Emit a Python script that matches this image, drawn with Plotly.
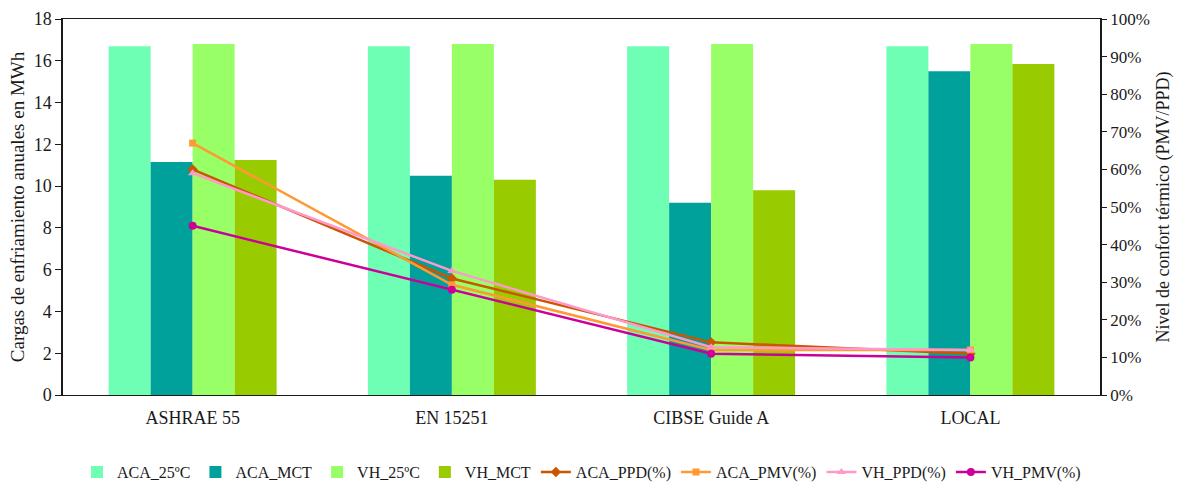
import plotly.graph_objects as go

# Cooling loads (MWh) per comfort standard
categories = ["ASHRAE 55", "EN 15251", "CIBSE Guide A", "LOCAL"]
aca_25 = [16.7, 16.7, 16.7, 16.7]
aca_mct = [11.15, 10.5, 9.2, 15.5]
vh_25 = [16.8, 16.8, 16.8, 16.8]
vh_mct = [11.25, 10.3, 9.8, 15.85]

# Thermal comfort levels (fraction)
aca_ppd = [0.60, 0.31, 0.14, 0.11]
aca_pmv = [0.67, 0.293, 0.12, 0.12]
vh_ppd = [0.59, 0.33, 0.127, 0.12]
vh_pmv = [0.45, 0.28, 0.11, 0.10]

FONT = "Liberation Serif"
INK = "#1a1a1a"

fig = go.Figure()

bars = [
    ("ACA_25ºC", aca_25, "#6FFFB4"),
    ("ACA_MCT", aca_mct, "#00A19A"),
    ("VH_25ºC", vh_25, "#99FF66"),
    ("VH_MCT", vh_mct, "#99CC00"),
]
for name, vals, color in bars:
    fig.add_trace(go.Bar(
        x=categories, y=vals, name=name,
        marker=dict(color=color, line=dict(width=0)),
        yaxis="y",
    ))

lines = [
    ("ACA_PPD(%)", aca_ppd, "#CC5500", "diamond", 8),
    ("ACA_PMV(%)", aca_pmv, "#FF9933", "square", 7),
    ("VH_PPD(%)", vh_ppd, "#FF99CC", "triangle-up", 8),
    ("VH_PMV(%)", vh_pmv, "#CC0099", "circle", 8),
]
for name, vals, color, sym, size in lines:
    fig.add_trace(go.Scatter(
        x=categories, y=vals, name=name, mode="lines+markers",
        line=dict(color=color, width=2.5),
        marker=dict(symbol=sym, size=size, color=color),
        yaxis="y2",
    ))

fig.update_layout(
    width=1185, height=485,
    margin=dict(l=63, r=85, t=19, b=90, autoexpand=False),
    paper_bgcolor="white", plot_bgcolor="white",
    font=dict(family=FONT, size=16, color=INK),
    barmode="group", bargap=0.352, bargroupgap=0,
    showlegend=True,
    legend=dict(
        orientation="h", x=0.5, xanchor="center", y=-0.16, yanchor="top",
        font=dict(family=FONT, size=16, color=INK),
        traceorder="normal", itemwidth=30, tracegroupgap=0,
    ),
    xaxis=dict(
        type="category", showline=True, linecolor=INK, linewidth=1,
        mirror=True, ticks="outside", ticklen=6, tickcolor="rgba(0,0,0,0)",
        showgrid=False, automargin=False,
        tickfont=dict(family=FONT, size=18, color=INK),
    ),
    yaxis=dict(
        range=[0, 18], dtick=2, showline=True, linecolor=INK, linewidth=1.5,
        ticks="outside", ticklen=6, tickcolor=INK, showgrid=False,
        zeroline=False, automargin=False,
        title=dict(text="Cargas de enfriamiento anuales en MWh",
                   font=dict(family=FONT, size=19, color=INK), standoff=4),
        tickfont=dict(family=FONT, size=18, color=INK),
    ),
    yaxis2=dict(
        range=[0, 1], dtick=0.1, tickformat=".0%", overlaying="y", side="right",
        showline=True, linecolor=INK, linewidth=1.5,
        ticks="outside", ticklen=5, tickcolor=INK, showgrid=False,
        zeroline=False, automargin=False,
        title=dict(text="Nivel de confort térmico (PMV/PPD)",
                   font=dict(family=FONT, size=18, color=INK), standoff=8),
        tickfont=dict(family=FONT, size=17, color=INK),
    ),
)

fig.write_html("out.html")
